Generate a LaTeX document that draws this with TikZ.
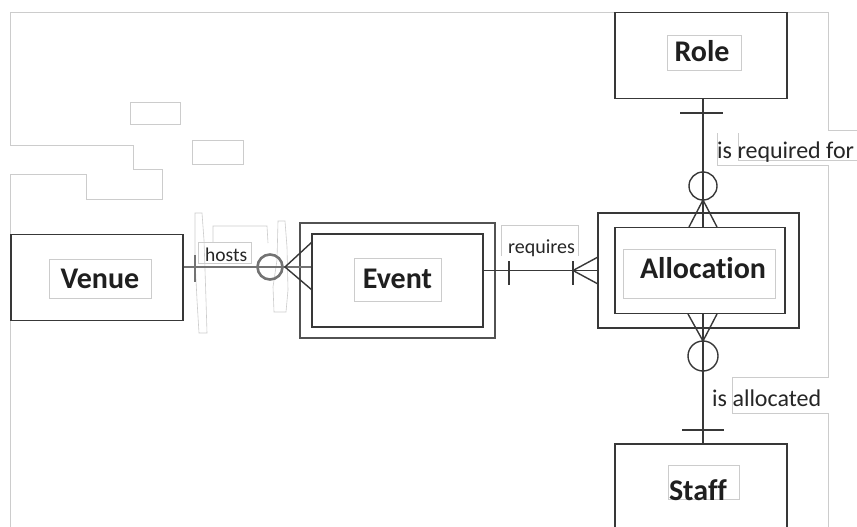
\documentclass[tikz,border=0pt]{standalone}
\usepackage{fontspec}
\setmainfont{Carlito}[Ligatures=NoCommon]
\tikzset{
  entity/.style={draw=black!78, line width=1.5pt, inner sep=0pt},
  weakframe/.style={draw=black!68, line width=1.5pt, inner sep=0pt},
  entname/.style={font=\fontsize{30}{30}\selectfont\bfseries, text=black!88, inner sep=0pt, anchor=base},
  rellabel/.style={font=\fontsize{24}{24}\selectfont, text=black!85, inner sep=0pt, anchor=base west},
  rel/.style={draw=black!78, line width=1.4pt},
  hostrel/.style={draw=black!55, line width=2.6pt},
  ghost/.style={draw=black!20, line width=0.6pt}
}
\begin{document}
\begin{tikzpicture}[x=1pt,y=-1pt]
    \clip (0,0) rectangle (857,527);
    \fill[white] (0,0) rectangle (857,527);

    % faint outlines left over in the picture
    \draw[ghost] (10,527) -- (10,174) -- (86,174) -- (86,199) -- (162,199) -- (162,169) -- (133,169) -- (133,145) -- (10,145) -- (10,12) -- (828,12) -- (828,130) -- (857,130);
    \draw[ghost] (738,133) -- (738,160) -- (857,160);
    \draw[ghost] (717,133) -- (717,165) -- (828,165) -- (828,377) -- (732,377) -- (732,413) -- (828,413) -- (828,527);
    \draw[ghost] (130,102) rectangle (180,124);
    \draw[ghost] (192,140) rectangle (243,164);
    \draw[ghost] (195,213) -- (202,213) -- (204,240) -- (206,300) -- (207,333) -- (199,333) -- (197,300) -- (195,260) -- cycle;
    \draw[ghost] (278,221) -- (285,221) -- (287,247) -- (288,290) -- (286,312) -- (274,312) -- (273,287) -- (277,260) -- cycle;
    \draw[ghost] (213,242) -- (213,226) -- (267,226) -- (268,243);
    \draw[ghost] (198,242) rectangle (251,263);
    \draw[ghost] (501,256) -- (501,225) -- (578,225) -- (578,256);

    % name frames
    \draw[ghost] (49,259) rectangle (151,298);
    \draw[ghost] (354,258) rectangle (441,301);
    \draw[ghost] (623,249) rectangle (775,298);
    \draw[ghost] (667,35) rectangle (741,70);
    \draw[ghost] (668,465) rectangle (739,499);

    % entities
    \node[entity, minimum width=172pt, minimum height=86pt] (venue) at (97,277.5) {};
    \node[entity, minimum width=171pt, minimum height=93pt] (event) at (397.5,280.5) {};
    \node[weakframe, minimum width=195pt, minimum height=115pt] (eventouter) at (event.center) {};
    \node[entity, minimum width=170pt, minimum height=86pt] (alloc) at (700,270.5) {};
    \node[entity, minimum width=201pt, minimum height=115pt] (allocouter) at (698.5,270.5) {};
    \node[entity, minimum width=172pt, minimum height=86pt] (role) at (701,55.5) {};
    \node[entity, minimum width=172pt, minimum height=100pt] (staff) at (701,494) {};

    \node[entname] (venuename) at (100,288) {Venue};
    \node[entname] (eventname) at (397.5,288) {Event};
    \node[entname] (allocname) at (703,278) {Allocation};
    \node[entname] (rolename) at (702,61.5) {Role};
    \node[entname] (staffname) at (698,500) {Staff};

    % Venue hosts Event
    \draw[hostrel] ([yshift=10.5pt]venue.east) -- ([yshift=13.5pt]event.west);
    \draw[hostrel] (195,255) -- (195,282);
    \draw[hostrel] (270,267) circle (12.5pt);
    \draw[rel] (312,242) -- (285,267) -- (312,290);
    \node[rellabel, font=\fontsize{19.5}{20}\selectfont] (hosts) at (205,261.5) {hosts};

    % Event requires Allocation
    \draw[rel] ([yshift=10pt]event.east) -- (allocouter.west);
    \draw[rel] (509,261) -- (509,285);
    \draw[rel] (573,261) -- (573,285);
    \draw[rel] (598,257) -- (573,270.5) -- (598,284);
    \node[rellabel, font=\fontsize{20}{20}\selectfont] (requires) at (508,253) {requires};

    % Role is required for Allocation
    \draw[rel] ([xshift=2pt]role.south) -- ([xshift=3pt]alloc.north);
    \draw[rel] (680,113) -- (723,113);
    \draw[rel] (703,186) circle (14pt);
    \draw[rel] (689,227) -- (703,200) -- (717,227);
    \node[rellabel] (reqfor) at (717,158) {is required for};

    % Staff is allocated to Allocation
    \draw[rel] ([xshift=3pt]alloc.south) -- ([xshift=2pt]staff.north);
    \draw[rel] (688,314) -- (703,341) -- (717,314);
    \draw[rel] (703,356) circle (15pt);
    \draw[rel] (682,430) -- (724,430);
    \node[rellabel] (allocated) at (712,406.5) {is allocated};
\end{tikzpicture}
\end{document}
